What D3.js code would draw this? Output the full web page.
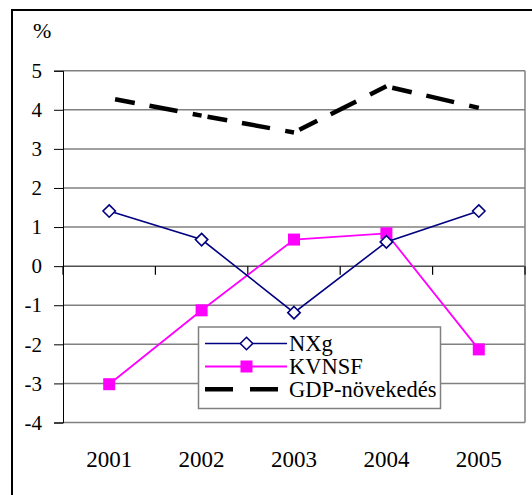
<!DOCTYPE html>
<html>
<head>
<meta charset="utf-8">
<script src="https://cdn.jsdelivr.net/npm/d3@7"></script>
<style>
  html, body { margin: 0; padding: 0; background: #fff; }
  svg { display: block; }
  svg text { fill: #000; }
</style>
</head>
<body>
<svg id="chart" width="532" height="495"></svg>
<script>
const years = ["2001", "2002", "2003", "2004", "2005"];
const nxg = [1.41, 0.68, -1.19, 0.62, 1.41];
const kvnsf = [-3.02, -1.13, 0.68, 0.84, -2.13];
const gdp = [4.3, 3.85, 3.42, 4.6, 4.05];
const yTicks = [5, 4, 3, 2, 1, 0, -1, -2, -3, -4];
const seriesNames = ["NXg", "KVNSF", "GDP-növekedés"];
const axisTitle = "%";

const FONT = "Tinos, 'Noto Serif', FreeSerif, 'Nimbus Roman', Times, 'Liberation Serif', 'DejaVu Serif', serif";
const svg = d3.select("#chart");
svg.append("rect").attr("width", 532).attr("height", 495).attr("fill", "#fff");
// outer chart border
svg.append("rect").attr("x", 12).attr("y", 10).attr("width", 540).attr("height", 500)
  .attr("fill", "none").attr("stroke", "#000").attr("stroke-width", 2);

const L = 63, R = 525, T = 70.7, B = 422.5;
const x = d3.scaleBand().domain(years).range([L, R]).padding(0);
const y = d3.scaleLinear().domain([-4, 5]).range([B, T]);

// gridlines
svg.append("g").selectAll("line").data(yTicks).join("line")
  .attr("x1", L).attr("x2", R).attr("y1", d => y(d)).attr("y2", d => y(d))
  .attr("stroke", d => d === 0 ? "#505050" : "#808080").attr("stroke-width", 1.5);
// right border of plot
svg.append("line").attr("x1", R).attr("x2", R).attr("y1", T).attr("y2", B)
  .attr("stroke", "#808080").attr("stroke-width", 1.5);

// y axis
const yAxis = d3.axisLeft(y).tickValues(yTicks).tickSize(9).tickPadding(12)
  .tickFormat(d3.format("d"));
const gy = svg.append("g").attr("transform", `translate(${L},0)`).call(yAxis)
  .attr("font-family", FONT);
gy.select(".domain").attr("stroke", "#000").attr("stroke-width", 1);
gy.selectAll(".tick line").attr("stroke", "#000").attr("stroke-width", 1);
gy.selectAll(".tick text").attr("font-size", 21).style("font-family", FONT)
  .attr("dy", "0.32em").text(d => d < 0 ? "-" + Math.abs(d) : d);

// category axis ticks at zero
const bounds = years.map((d, i) => x(d)).concat([R]);
svg.append("g").selectAll("line").data(bounds).join("line")
  .attr("x1", d => d).attr("x2", d => d).attr("y1", y(0)).attr("y2", y(0) + 8.5)
  .attr("stroke", "#000").attr("stroke-width", 1.2);

// x labels
svg.append("g").selectAll("text").data(years).join("text")
  .attr("x", d => x(d) + x.bandwidth() / 2).attr("y", 466.7)
  .attr("text-anchor", "middle").attr("font-size", 23).style("font-family", FONT).text(d => d);

// axis title
svg.append("text").attr("x", 33).attr("y", 38).attr("font-size", 22)
  .style("font-family", FONT).text(axisTitle);

const cx = (d, i) => x(years[i]) + x.bandwidth() / 2;
const line = d3.line().x((d, i) => cx(d, i)).y(d => y(d));

// GDP dashed, pattern restarting at each segment
const gdpDash = "0 6 20 15 28.5 15.5 28.5 15.5 28.5 15.5";
const segs = d3.pairs(gdp.map((v, i) => [cx(v, i), y(v)]));
svg.append("g").selectAll("line").data(segs).join("line")
  .attr("x1", d => d[0][0]).attr("y1", d => d[0][1])
  .attr("x2", d => d[1][0]).attr("y2", d => d[1][1])
  .attr("stroke", "#000").attr("stroke-width", 4.5).attr("stroke-dasharray", gdpDash);

// KVNSF
svg.append("path").datum(kvnsf).attr("d", line).attr("fill", "none")
  .attr("stroke", "#FF00FF").attr("stroke-width", 1.8);
svg.append("g").selectAll("rect").data(kvnsf).join("rect")
  .attr("x", (d, i) => cx(d, i) - 6).attr("y", d => y(d) - 6)
  .attr("width", 12).attr("height", 12).attr("fill", "#FF00FF");

// NXg
svg.append("path").datum(nxg).attr("d", line).attr("fill", "none")
  .attr("stroke", "#000080").attr("stroke-width", 1.6);
const diamond = (px, py, r) => `M${px},${py - r}L${px + r},${py}L${px},${py + r}L${px - r},${py}Z`;
svg.append("g").selectAll("path").data(nxg).join("path")
  .attr("d", (d, i) => diamond(cx(d, i), y(d), 6.2))
  .attr("fill", "#fff").attr("stroke", "#000080").attr("stroke-width", 1.6);

// legend
const lg = svg.append("g");
lg.append("rect").attr("x", 198.5).attr("y", 327).attr("width", 242).attr("height", 81.5)
  .attr("fill", "#fff").attr("stroke", "#808080").attr("stroke-width", 1.5);
const rowsY = [343.5, 366.5, 389.2];
const lx1 = 205, lx2 = 287, mx = 246.5;
// NXg
lg.append("line").attr("x1", lx1).attr("x2", lx2).attr("y1", rowsY[0]).attr("y2", rowsY[0])
  .attr("stroke", "#000080").attr("stroke-width", 1.6);
lg.append("path").attr("d", diamond(mx, rowsY[0], 6.2)).attr("fill", "#fff")
  .attr("stroke", "#000080").attr("stroke-width", 1.6);
// KVNSF
lg.append("line").attr("x1", lx1).attr("x2", lx2).attr("y1", rowsY[1]).attr("y2", rowsY[1])
  .attr("stroke", "#FF00FF").attr("stroke-width", 1.8);
lg.append("rect").attr("x", mx - 6).attr("y", rowsY[1] - 6).attr("width", 12).attr("height", 12)
  .attr("fill", "#FF00FF");
// GDP
lg.append("line").attr("x1", lx1).attr("x2", lx2).attr("y1", rowsY[2]).attr("y2", rowsY[2])
  .attr("stroke", "#000").attr("stroke-width", 4.5).attr("stroke-dasharray", "28 17");
lg.selectAll("text.lbl").data(seriesNames).join("text").attr("class", "lbl")
  .attr("x", 289).attr("y", (d, i) => rowsY[i] + 7.3).attr("font-size", 22.5)
  .style("font-family", FONT).text(d => d);
</script>
</body>
</html>
